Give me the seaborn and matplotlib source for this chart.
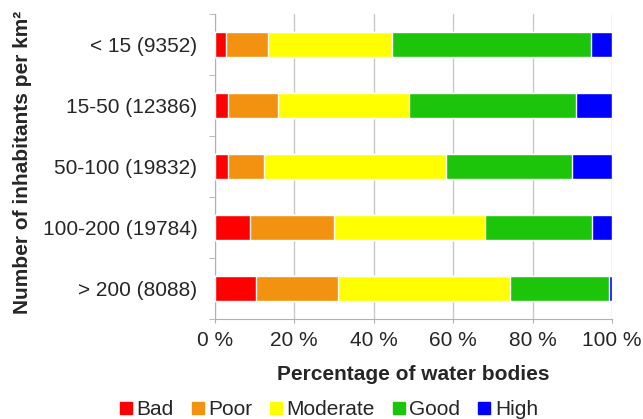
import matplotlib
matplotlib.use("Agg")
import matplotlib.pyplot as plt
import seaborn as sns
import numpy as np
import pandas as pd
from matplotlib.lines import Line2D

categories = ["< 15 (9352)", "15-50 (12386)", "50-100 (19832)", "100-200 (19784)", "> 200 (8088)"]
classes = ["Bad", "Poor", "Moderate", "Good", "High"]
bad = [2.8, 3.4, 3.4, 8.9, 10.4]
poor = [10.5, 12.4, 9.1, 21.0, 20.7]
moderate = [31.4, 33.1, 45.7, 38.0, 43.3]
good = [49.9, 42.0, 31.8, 27.0, 24.9]
high = [5.4, 9.1, 10.0, 5.1, 0.7]
colors = ["#ff0000", "#f39210", "#ffff00", "#1cc40a", "#0000ff"]

df = pd.DataFrame({"group": categories, "Bad": bad, "Poor": poor,
                   "Moderate": moderate, "Good": good, "High": high})
cum = df[classes].cumsum(axis=1)

sns.set_style("white")
plt.rcParams["font.family"] = ["Liberation Sans", "DejaVu Sans"]

fig = plt.figure(figsize=(6.43, 4.19), dpi=100)
ax = fig.add_axes([0.334, 0.2375, 0.618, 0.729])

# stacked bars: draw cumulative totals from the widest down
for cls, col in reversed(list(zip(classes, colors))):
    sns.barplot(x=cum[cls], y=df["group"], color=col, orient="h",
                width=0.41, saturation=1, ax=ax, zorder=3)

ax.set_xlim(0, 100)
ax.set_ylim(4.5, -0.5)
ax.set_xticks(np.arange(0, 101, 20))
ax.set_xticklabels([f"{v} %" for v in range(0, 101, 20)], fontsize=15)
ax.set_yticks(np.arange(-0.5, 5, 1), minor=True)
ax.tick_params(axis="y", which="major", length=0, labelsize=15, pad=12.5)
ax.tick_params(axis="y", which="minor", length=4, color="#b0b0b0", left=True)
ax.tick_params(axis="x", length=3, color="#b0b0b0", bottom=True, pad=5)
ax.grid(axis="x", color="#c8c8c8", linewidth=1, zorder=0)
for s in ["top", "right"]:
    ax.spines[s].set_visible(False)
for s in ["left", "bottom"]:
    ax.spines[s].set_color("#b0b0b0")

ax.set_xlabel("Percentage of water bodies", fontsize=15, fontweight="bold")
ax.xaxis.set_label_coords(0.5, -0.148)
ax.set_ylabel("Number of inhabitants per km²", fontsize=15, fontweight="bold")
ax.yaxis.set_label_coords(-0.46, 0.515)

handles = [Line2D([], [], marker="s", linestyle="none", markersize=8,
                  color=c, label=l) for l, c in zip(classes, colors)]
fig.legend(handles=handles, loc="center", bbox_to_anchor=(0.51, 0.022),
           ncol=5, frameon=False, fontsize=15, handletextpad=0.1,
           columnspacing=0.75, handlelength=0.8, borderpad=0)

fig.savefig("out.png", dpi=100)
